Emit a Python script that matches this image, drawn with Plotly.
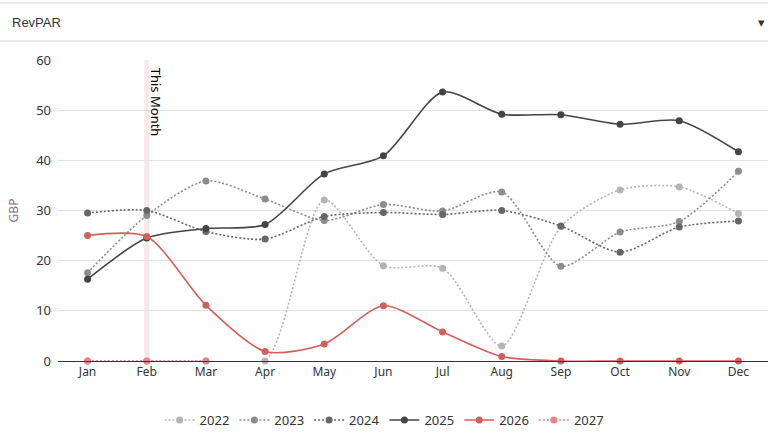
import plotly.graph_objects as go

months = ["Jan", "Feb", "Mar", "Apr", "May", "Jun", "Jul", "Aug", "Sep", "Oct", "Nov", "Dec"]
y2022 = [0, 0, 0, 0, 32.1, 19.0, 18.5, 3.0, 26.8, 34.1, 34.7, 29.4]
y2023 = [17.6, 29.0, 35.9, 32.3, 28.0, 31.2, 29.9, 33.7, 18.9, 25.7, 27.8, 37.8]
y2024 = [29.5, 30.0, 25.8, 24.3, 28.8, 29.6, 29.2, 30.0, 26.9, 21.7, 26.7, 27.9]
y2025 = [16.3, 24.5, 26.4, 27.2, 37.3, 40.9, 53.6, 49.2, 49.1, 47.2, 47.9, 41.7]
y2026 = [25.0, 24.8, 11.1, 1.9, 3.4, 11.0, 5.8, 0.9, 0, 0, 0, 0]
y2027 = [0, 0, 0, None, None, None, None, None, None, None, None, None]
current_month = "Feb"

series = [
    ("2022", y2022, "#b4b4b4", "2px,2px"),
    ("2023", y2023, "#8c8c8c", "2px,2px"),
    ("2024", y2024, "#666666", "2px,2px"),
    ("2025", y2025, "#444444", "solid"),
    ("2026", y2026, "#d45f5a", "solid"),
    ("2027", y2027, "#e58585", "2px,2px"),
]

fig = go.Figure()
for name, vals, color, dash in series:
    fig.add_trace(go.Scatter(
        x=months, y=vals, name=name, mode="lines+markers",
        line=dict(color=color, dash=dash, width=1.6, shape="spline", smoothing=0.75),
        marker=dict(color=color, size=7),
        cliponaxis=False,
    ))

fig.add_shape(type="line", xref="x", yref="paper", x0=current_month, x1=current_month,
              y0=0, y1=1, line=dict(color="rgba(240,205,210,0.45)", width=5), layer="below")
fig.add_annotation(x=current_month, xref="x", y=1, yref="paper", yanchor="top",
                   text="This Month", textangle=90, showarrow=False, xshift=10, yshift=-6,
                   font=dict(size=13, color="#000000", family="Noto Sans"))

# header dropdown imitation
fig.add_shape(type="line", xref="paper", yref="paper", x0=-0.0817, x1=1.0, y0=1.189, y1=1.189,
              line=dict(color="#e0e0e0", width=1.5))
fig.add_shape(type="line", xref="paper", yref="paper", x0=-0.0817, x1=1.0, y0=1.063, y1=1.063,
              line=dict(color="#e0e0e0", width=1.5))
fig.add_annotation(x=-0.0676, xref="paper", y=1.126, yref="paper", xanchor="left", yanchor="middle",
                   text="RevPAR", showarrow=False,
                   font=dict(size=13, color="#333333", family="Liberation Sans Narrow, Liberation Sans"))
fig.add_annotation(x=1.0, xref="paper", y=1.126, yref="paper", xanchor="right", yanchor="middle",
                   text="▾", showarrow=False, xshift=-1,
                   font=dict(size=13, color="#333333"))

fig.update_layout(
    width=768, height=446,
    margin=dict(l=58, r=0, t=60, b=85),
    paper_bgcolor="white", plot_bgcolor="white",
    font=dict(family="Noto Sans", size=12, color="#333333"),
    showlegend=True,
    legend=dict(orientation="h", x=0.46, xanchor="center", y=-0.196, yanchor="middle",
                font=dict(size=13, color="#333333"), itemwidth=30, tracegroupgap=0),
    xaxis=dict(showgrid=False, showline=True, linecolor="#333333", linewidth=1,
               ticks="", tickfont=dict(size=12, color="#333333"), range=[-0.5, 11.5],
               fixedrange=True),
    yaxis=dict(range=[0, 60], dtick=10, showgrid=True, gridcolor="#e3e3e3", gridwidth=1,
               zeroline=False, showline=False, ticks="", ticklabelstandoff=6,
               tickfont=dict(size=13, color="#333333"),
               title=dict(text="GBP", font=dict(size=12, color="#8a6d7c"), standoff=14)),
)

fig.write_html("out.html", config={"displayModeBar": False},
               post_script="document.body.style.margin='0';document.body.style.overflow='hidden';")
